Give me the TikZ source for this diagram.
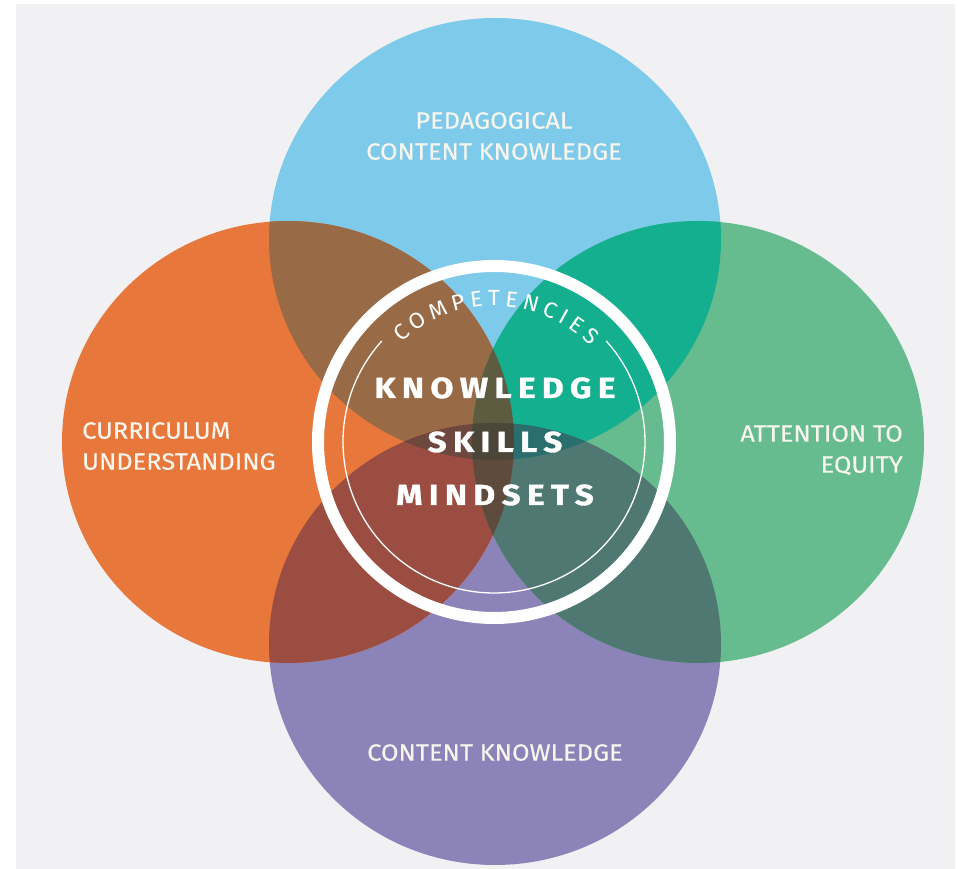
\documentclass[tikz,border=0pt]{standalone}
\usepackage{fontspec}
\setmainfont{Fira Sans}
\newfontfamily\heavyfont{Fira Sans}[LetterSpace=22, FakeStretch=1.15, FakeBold=1.2]
\newfontfamily\lblfont{Fira Sans}[FakeStretch=1.08, FakeBold=0.3]
\newfontfamily\arcfont{Fira Sans}[FakeStretch=1.05]
\usetikzlibrary{decorations.text}
\definecolor{bggray}{HTML}{F1F1F3}
\definecolor{cblue}{HTML}{7DCAEB}
\definecolor{corange}{HTML}{E8773C}
\definecolor{cgreen}{HTML}{66BC8F}
\definecolor{cpurple}{HTML}{8C84B9}
\definecolor{cBO}{HTML}{986A46}
\definecolor{cBG}{HTML}{13AF8F}
\definecolor{cOP}{HTML}{9A4D40}
\definecolor{cGP}{HTML}{4F7873}
\definecolor{cBOG}{HTML}{5D5B40}
\definecolor{cBOP}{HTML}{6E483E}
\definecolor{cBGP}{HTML}{2A6E6E}
\definecolor{cOGP}{HTML}{5F4B3E}
\definecolor{cALL}{HTML}{4B4637}
\definecolor{lblwhite}{HTML}{F7F5EE}
\def\pB{(495,630) ellipse [x radius=226pt, y radius=221pt]}
\def\pP{(495,225) ellipse [x radius=226pt, y radius=221pt]}
\def\pO{(288,427) ellipse [x radius=226pt, y radius=221pt]}
\def\pG{(698,427) ellipse [x radius=226pt, y radius=221pt]}
\begin{document}
\begin{tikzpicture}[x=1pt,y=1pt,
  lbl/.style={text=lblwhite, font=\lblfont\fontsize{23.5}{31}\selectfont, inner sep=0pt},
  core/.style={text=white, font=\heavyfont\bfseries\fontsize{29}{29}\selectfont, inner sep=0pt, anchor=base}]
\useasboundingbox (0,0) rectangle (962,869);
\fill[white] (0,0) rectangle (962,869);
\fill[bggray] (16,0) rectangle (955,865);
% circles
\fill[cblue] \pB;
\fill[cpurple] \pP;
\fill[corange] \pO;
\fill[cgreen] \pG;
% pairwise overlaps
\begin{scope}\clip \pB; \fill[cBO] \pO; \end{scope}
\begin{scope}\clip \pB; \fill[cBG] \pG; \end{scope}
\begin{scope}\clip \pP; \fill[cOP] \pO; \end{scope}
\begin{scope}\clip \pP; \fill[cGP] \pG; \end{scope}
% triple overlaps
\begin{scope}\clip \pB; \clip \pO; \fill[cBOG] \pG; \end{scope}
\begin{scope}\clip \pB; \clip \pO; \fill[cBOP] \pP; \end{scope}
\begin{scope}\clip \pB; \clip \pG; \fill[cBGP] \pP; \end{scope}
\begin{scope}\clip \pO; \clip \pG; \fill[cOGP] \pP; \end{scope}
% all four
\begin{scope}\clip \pB; \clip \pO; \clip \pG; \fill[cALL] \pP; \end{scope}
% ring
\coordinate (ctr) at (494,427);
\draw[white, line width=12pt] (ctr) circle[radius=176pt];
\draw[white, line width=1.3pt] (ctr) ++(138:151) arc[start angle=138, end angle=402, radius=151pt];
\path[decorate, decoration={text along path, text align={fit to path},
  text={|\color{white}\arcfont\fontsize{22}{22}\selectfont|COMPETENCIES}}]
  (ctr) ++(133:136) arc[start angle=133, end angle=45, radius=136pt];
% core words
\node[core] (kn) at (495,471) {KNOWLEDGE};
\node[core] (sk) at (495,417) {SKILLS};
\node[core] (mi) at (495,364) {MINDSETS};
% labels
\node[lbl, align=center, anchor=north] (pck) at (494,757) {PEDAGOGICAL\\CONTENT KNOWLEDGE};
\node[lbl, align=left, anchor=north west] (cu) at (82,447) {CURRICULUM\\UNDERSTANDING};
\node[lbl, align=right, anchor=north east] (ae) at (903,444) {ATTENTION TO\\EQUITY};
\node[lbl, anchor=north] (ck) at (495,125) {CONTENT KNOWLEDGE};
\end{tikzpicture}
\end{document}
